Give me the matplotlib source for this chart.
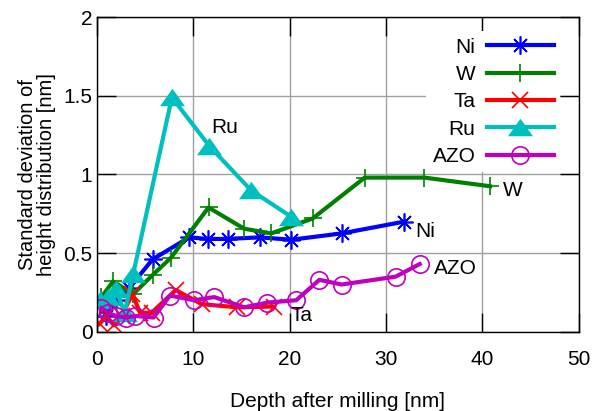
import matplotlib
matplotlib.use("Agg")
import matplotlib.pyplot as plt

plt.rcParams['font.family'] = ['Liberation Sans', 'DejaVu Sans']

ni_x = [0.3, 1.0, 2.0, 3.4, 5.8, 9.6, 11.5, 13.6, 16.9, 20.2, 25.4, 31.9]
ni_y = [0.17, 0.10, 0.20, 0.28, 0.46, 0.60, 0.59, 0.59, 0.60, 0.585, 0.625, 0.70]

w_x = [0.5, 1.7, 3.8, 5.8, 7.7, 11.6, 15.3, 18.1, 22.4, 27.8, 34.0, 40.8]
w_y = [0.22, 0.32, 0.24, 0.36, 0.47, 0.79, 0.655, 0.625, 0.72, 0.98, 0.98, 0.925]

ta_x = [0.3, 1.0, 1.8, 2.6, 3.7, 4.5, 5.7, 8.2, 10.9, 14.6, 18.4]
ta_y = [0.05, 0.10, 0.04, 0.10, 0.24, 0.12, 0.12, 0.265, 0.175, 0.155, 0.16]

ru_x = [0.3, 1.2, 2.0, 2.9, 3.8, 7.8, 11.7, 16.0, 20.2]
ru_y = [0.20, 0.22, 0.27, 0.12, 0.37, 1.49, 1.18, 0.90, 0.73]

azo_x = [0.5, 1.2, 2.0, 3.0, 4.0, 5.9, 7.6, 10.1, 12.2, 15.3, 17.7, 20.7, 23.1, 25.4, 31.0, 33.5]
azo_y = [0.15, 0.12, 0.10, 0.09, 0.10, 0.09, 0.23, 0.20, 0.22, 0.155, 0.185, 0.20, 0.33, 0.30, 0.35, 0.43]

labels = ["Ni", "W", "Ta", "Ru", "AZO"]
colors = ["#0000ff", "#008000", "#ff0000", "#00bfbf", "#bf00bf"]

xticks = [0, 10, 20, 30, 40, 50]
yticks = [0, 0.5, 1, 1.5, 2]
ytick_labels = ["0", "0.5", "1", "1.5", "2"]

FS = 15

fig = plt.figure(figsize=(5.93, 4.11), dpi=100)
ax = fig.add_axes([0.163, 0.193, 0.813, 0.765])

tri = [(-1, -0.7), (1, -0.7), (0, 0.7), (-1, -0.7)]
series = [
    (ni_x, ni_y, dict(marker=(8, 2, 0), markersize=13, markeredgewidth=1.2)),
    (w_x, w_y, dict(marker='+', markersize=13, markeredgewidth=1.2)),
    (ta_x, ta_y, dict(marker='x', markersize=12, markeredgewidth=1.2)),
    (ru_x, ru_y, dict(marker=tri, markersize=18, markeredgewidth=0)),
    (azo_x, azo_y, dict(marker='o', markersize=12.5, markerfacecolor='none', markeredgewidth=1.2)),
]
for (xs, ys, st), lab, c in zip(series, labels, colors):
    kw = dict(color=c, lw=3, label=lab)
    kw.update(st)
    if 'markerfacecolor' not in kw:
        kw['markerfacecolor'] = c
    kw['markeredgecolor'] = c
    ax.plot(xs, ys, **kw)

ax.set_xlim(0, 50)
ax.set_ylim(0, 2)
ax.set_xticks(xticks)
ax.set_yticks(yticks)
ax.set_yticklabels(ytick_labels)
ax.grid(True, color='#a0a0a0', lw=1)
ax.set_axisbelow(True)
ax.tick_params(direction='in', length=14, width=1, top=True, right=True,
               labelsize=FS, colors='black')
ax.tick_params(axis='x', pad=13)
ax.tick_params(axis='y', pad=3)
for s in ax.spines.values():
    s.set_linewidth(1)
ax.set_xlabel("Depth after milling [nm]", fontsize=FS, labelpad=17)
ax.set_ylabel("Standard deviation of\nheight distribution [nm]", fontsize=14.5,
              labelpad=5, linespacing=1.0)

ax.text(11.9, 1.30, "Ru", fontsize=FS, ha='left', va='center')
ax.text(42.1, 0.90, "W", fontsize=FS, ha='left', va='center')
ax.text(33.0, 0.64, "Ni", fontsize=FS, ha='left', va='center')
ax.text(35.0, 0.405, "AZO", fontsize=FS, ha='left', va='center')
ax.text(20.1, 0.10, "Ta", fontsize=FS, ha='left', va='center')

leg = ax.legend(loc='upper right', bbox_to_anchor=(0.961, 0.955), markerfirst=False,
                frameon=True, fancybox=False, edgecolor='none', facecolor='white',
                framealpha=1, fontsize=FS, handlelength=3.2, labelspacing=0.4,
                borderpad=0.3, handletextpad=0.55, borderaxespad=0)
for t in leg.get_texts():
    t.set_ha('right')
leg._legend_box.align = "right"

fig.savefig("out.png", dpi=100)
